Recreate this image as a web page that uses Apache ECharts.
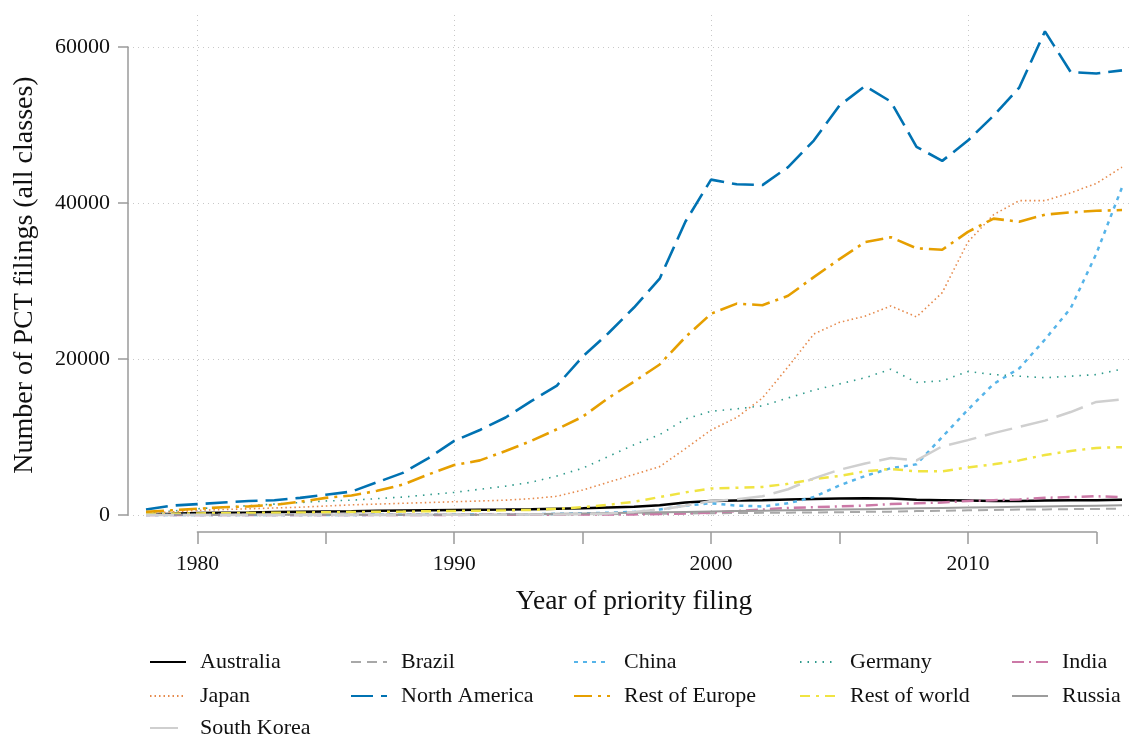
<!DOCTYPE html>
<html>
<head>
<meta charset="utf-8">
<title>PCT filings by region</title>
<script src="https://cdn.jsdelivr.net/npm/echarts@6/dist/echarts.min.js"></script>
<style>
  html, body { margin: 0; padding: 0; background: #fff; }
  #main { width: 1129px; height: 736px; }
</style>
</head>
<body>
<div id="main"></div>
<script>
// years of priority filing (x)
const years = [1978, 1979, 1980, 1981, 1982, 1983, 1984, 1985, 1986, 1987,
               1988, 1989, 1990, 1991, 1992, 1993, 1994, 1995, 1996, 1997,
               1998, 1999, 2000, 2001, 2002, 2003, 2004, 2005, 2006, 2007,
               2008, 2009, 2010, 2011, 2012, 2013, 2014, 2015, 2016];

// number of PCT filings
const australia = [100, 150, 250, 300, 330, 370, 410, 450, 490, 540,
                   580, 620, 650, 680, 710, 750, 800, 850, 950, 1050,
                   1250, 1600, 1800, 1850, 1900, 2000, 2050, 2100, 2150, 2100,
                   1950, 1900, 1850, 1800, 1800, 1850, 1900, 1900, 1950];
const brazil = [10, 10, 15, 15, 20, 20, 25, 25, 30, 30,
                35, 40, 45, 50, 60, 70, 80, 90, 110, 130,
                160, 200, 230, 250, 280, 300, 330, 360, 400, 430,
                500, 550, 600, 650, 700, 720, 750, 780, 800];
const china = [0, 0, 0, 0, 0, 0, 0, 0, 10, 20,
               30, 40, 50, 60, 80, 100, 150, 200, 300, 400,
               700, 1200, 1500, 1200, 1100, 1500, 2300, 3800, 5000, 6000,
               6500, 10000, 13500, 16800, 18800, 22500, 26500, 33500, 42000];
const germany = [300, 500, 800, 1000, 1200, 1400, 1600, 1800, 1900, 2100,
                 2300, 2600, 2900, 3300, 3700, 4200, 5000, 6000, 7500, 9000,
                 10300, 12300, 13300, 13600, 14000, 15000, 16000, 16800, 17600, 18700,
                 17000, 17200, 18400, 18000, 17800, 17600, 17800, 18000, 18700];
const india = [5, 5, 5, 5, 5, 5, 5, 5, 5, 5,
               10, 10, 15, 20, 25, 30, 40, 50, 60, 80,
               120, 200, 300, 500, 700, 900, 1000, 1100, 1200, 1400,
               1500, 1600, 1800, 1900, 2000, 2200, 2300, 2400, 2300];
const japan = [200, 400, 600, 700, 800, 900, 1000, 1150, 1300, 1400,
               1500, 1600, 1700, 1800, 1900, 2100, 2400, 3200, 4200, 5200,
               6200, 8500, 10900, 12500, 15000, 19000, 23200, 24700, 25500, 26800,
               25400, 28500, 35000, 38500, 40300, 40300, 41300, 42500, 44600];
const northAmerica = [700, 1200, 1400, 1600, 1800, 1900, 2200, 2600, 3000, 4200,
                      5400, 7300, 9500, 10900, 12500, 14600, 16600, 20300, 23300, 26600,
                      30300, 37600, 43000, 42400, 42300, 44600, 48000, 52500, 55000, 53000,
                      47200, 45400, 48000, 51200, 54800, 62000, 56800, 56600, 57000];
const restOfEurope = [400, 600, 800, 1000, 1100, 1300, 1700, 2200, 2500, 3100,
                      3900, 5200, 6400, 7000, 8200, 9500, 11000, 12600, 15000, 17100,
                      19300, 22800, 25800, 27100, 26900, 28100, 30500, 32800, 35000, 35600,
                      34200, 34000, 36300, 38000, 37600, 38500, 38800, 39000, 39100];
const restOfWorld = [100, 150, 200, 230, 260, 290, 320, 350, 380, 410,
                     440, 480, 520, 560, 600, 650, 800, 1000, 1300, 1700,
                     2300, 2900, 3400, 3500, 3600, 4000, 4600, 5000, 5600, 5900,
                     5600, 5600, 6100, 6500, 7000, 7700, 8200, 8600, 8700];
const russia = [20, 20, 20, 20, 20, 20, 20, 20, 20, 20,
                20, 20, 30, 40, 60, 100, 150, 200, 250, 300,
                350, 400, 450, 500, 550, 600, 650, 700, 750, 800,
                850, 900, 950, 1000, 1050, 1100, 1150, 1200, 1250];
const southKorea = [0, 0, 0, 0, 0, 0, 0, 0, 5, 5,
                    10, 15, 20, 30, 40, 60, 80, 100, 200, 400,
                    700, 1200, 1800, 2000, 2400, 3300, 4700, 5800, 6600, 7300,
                    7000, 8800, 9600, 10500, 11300, 12100, 13200, 14500, 14800];

const yTicks = [0, 20000, 40000, 60000];
const xTickLabels = [1980, 1990, 2000, 2010];

const FONT = 'Liberation Serif';

// name, values, colour, width, dash
const lines = [
    ['Australia', australia, '#000000', 2.5, 'solid'],
    ['Brazil', brazil, '#a8a8a8', 2, [10, 6]],
    ['China', china, '#56B4E9', 2.5, [4, 5]],
    ['Germany', germany, '#2f9a8c', 1.6, [1.5, 6]],
    ['India', india, '#CC79A7', 2.5, [12, 5, 2, 5]],
    ['Japan', japan, '#e68a4c', 1.6, [1.5, 3]],
    ['North America', northAmerica, '#0072B2', 2.6, [22, 8]],
    ['Rest of Europe', restOfEurope, '#E69F00', 2.6, [18, 6, 3, 6]],
    ['Rest of world', restOfWorld, '#F0E442', 2.5, [10, 6, 3, 6]],
    ['Russia', russia, '#9c9c9c', 2, 'solid'],
    ['South Korea', southKorea, '#cfcfcf', 2.5, [28, 9]]
];

const series = lines.map(([name, vals, color, width, dash]) => ({
    name: name,
    type: 'line',
    xAxisIndex: 0,
    yAxisIndex: 0,
    data: years.map((y, i) => [y, vals[i]]),
    symbol: 'none',
    showSymbol: false,
    clip: false,
    color: color,
    lineStyle: { color: color, width: width, type: dash, cap: 'butt' },
    emphasis: { disabled: true }
}));

const dotted = { show: true, lineStyle: { color: '#c8c8c8', width: 1, type: [1, 4] } };

// legend blocks: left, top, names (one block per column, third row separate)
const legendCols = [
    [149, 651, ['Australia', 'Japan']],
    [149, 717, ['South Korea']],
    [350, 651, ['Brazil', 'North America']],
    [573, 651, ['China', 'Rest of Europe']],
    [799, 651, ['Germany', 'Rest of world']],
    [1011, 651, ['India', 'Russia']]
];

const option = {
    animation: false,
    backgroundColor: '#fff',
    textStyle: { fontFamily: FONT },
    grid: [
        { left: 146, right: 7, top: 47, bottom: 221 },        // data
        { left: 197.4, right: 32.7, top: 47, bottom: 204 },   // x axis line 1980-2015
        { left: 128, right: 0, top: 47, bottom: 221 },        // y axis + horizontal grid
        { left: 197.4, right: 161.1, top: 15, bottom: 206 }   // vertical grid 1980-2010
    ],
    xAxis: [
        { gridIndex: 0, type: 'value', min: 1978, max: 2016,
          axisLine: { show: false }, axisTick: { show: false }, axisLabel: { show: false },
          splitLine: { show: false },
          name: 'Year of priority filing', nameLocation: 'middle', nameGap: 73,
          nameTextStyle: { fontFamily: FONT, fontSize: 27.5, color: '#111' } },
        { gridIndex: 1, type: 'value', min: 1980, max: 2015, interval: 5,
          axisLine: { show: true, lineStyle: { color: '#9a9a9a', width: 1.5 } },
          axisTick: { show: true, length: 12, lineStyle: { color: '#9a9a9a', width: 1.5 } },
          axisLabel: { show: true, margin: 21, fontFamily: FONT, fontSize: 21.5, color: '#111',
                       formatter: v => xTickLabels.includes(v) ? String(v) : '' },
          splitLine: { show: false } },
        { gridIndex: 2, type: 'value', min: 0, max: 1, show: false },
        { gridIndex: 3, type: 'value', min: 1980, max: 2010, interval: 10,
          axisLine: { show: false }, axisTick: { show: false }, axisLabel: { show: false },
          splitLine: dotted }
    ],
    yAxis: [
        { gridIndex: 0, type: 'value', min: 0, max: 60000, show: false },
        { gridIndex: 1, type: 'value', min: 0, max: 1, show: false },
        { gridIndex: 2, type: 'value', min: yTicks[0], max: yTicks[yTicks.length - 1], interval: 20000,
          axisLine: { show: true, lineStyle: { color: '#9a9a9a', width: 1.5 } },
          axisTick: { show: true, length: 10, lineStyle: { color: '#9a9a9a', width: 1.5 } },
          axisLabel: { margin: 18, fontFamily: FONT, fontSize: 22, color: '#111',
                       formatter: v => String(v) },
          splitLine: dotted,
          name: 'Number of PCT filings (all classes)', nameLocation: 'middle', nameGap: 89,
          nameTextStyle: { fontFamily: FONT, fontSize: 28, color: '#111', padding: [0, 0, 0, 12] } },
        { gridIndex: 3, type: 'value', min: 0, max: 1, show: false }
    ],
    legend: legendCols.map(([left, top, names]) => ({
        data: names,
        orient: 'vertical',
        left: left,
        top: top,
        padding: 0,
        itemWidth: 36,
        itemHeight: 12,
        itemGap: 12,
        selectedMode: false,
        itemStyle: { opacity: 0 },
        textStyle: { fontFamily: FONT, fontSize: 22, color: '#111', padding: [0, 0, 0, 9] }
    })),
    series: series
};

const chart = echarts.init(document.getElementById('main'), null, { renderer: 'canvas' });
chart.setOption(option);
</script>
</body>
</html>
